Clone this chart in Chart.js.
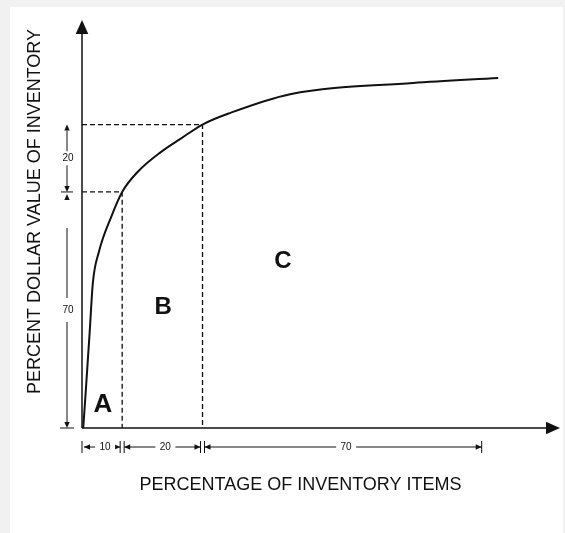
<!DOCTYPE html>
<html lang="en">
<head>
    <meta charset="UTF-8">
    <title>ABC Inventory Curve</title>
    <script src="https://cdn.jsdelivr.net/npm/chart.js"></script>
    <style>
        html, body { margin: 0; padding: 0; background: #f1f1f1; }
        .frame { position: absolute; left: 10px; top: 7px; width: 553px; height: 526px; background: #fff; }
        canvas { position: absolute; left: 0; top: 0; }
    </style>
</head>
<body>
    <div class="frame"></div>
    <canvas id="abcChart" width="565" height="533"></canvas>

    <script>
        // cumulative % of items vs cumulative % of dollar value
        const itemPct  = [0.3, 0.5, 1.07, 1.9, 2.7, 4.2, 7.3, 10, 13.9, 19.7, 24.7, 30, 36.8, 51.8, 82.4, 103.6];
        const valuePct = [0, 3.3, 13.3, 28.2, 43, 52.2, 62.7, 70, 76, 81.9, 85.9, 90, 93.4, 99, 102.3, 103.8];

        // class boundaries
        const classNames = ['A', 'B', 'C'];
        const itemBreaks = [0, 10, 30, 100];   // % of items
        const valueBreaks = [0, 70, 90];       // % of value
        const itemSpans = ['10', '20', '70'];
        const valueSpans = ['70', '20'];

        const xLabel = 'PERCENTAGE OF INVENTORY ITEMS';
        const yLabel = 'PERCENT DOLLAR VALUE OF INVENTORY';

        const curve = itemPct.map((x, i) => ({ x: x, y: valuePct[i] }));

        function guide(points) {
            return {
                data: points,
                showLine: true,
                borderColor: '#111',
                borderWidth: 1.3,
                borderDash: [5, 3],
                pointRadius: 0,
                fill: false
            };
        }

        const guides = [
            guide([{ x: 0, y: valueBreaks[1] }, { x: itemBreaks[1], y: valueBreaks[1] }, { x: itemBreaks[1], y: 0 }]),
            guide([{ x: 0, y: valueBreaks[2] }, { x: itemBreaks[2], y: valueBreaks[2] }, { x: itemBreaks[2], y: 0 }])
        ];

        function arrowHead(ctx, x, y, dir, size) {
            ctx.save();
            ctx.translate(x, y);
            ctx.rotate(dir);
            ctx.beginPath();
            ctx.moveTo(0, 0);
            ctx.lineTo(-size, -size * 0.45);
            ctx.lineTo(-size, size * 0.45);
            ctx.closePath();
            ctx.fill();
            ctx.restore();
        }

        const decorations = {
            id: 'decorations',
            afterDatasetsDraw(chart) {
                const ctx = chart.ctx;
                const xs = chart.scales.x, ys = chart.scales.y;
                const x0 = xs.getPixelForValue(0), y0 = ys.getPixelForValue(0);
                const right = chart.chartArea.right, top = chart.chartArea.top;
                ctx.save();
                ctx.strokeStyle = '#111';
                ctx.fillStyle = '#111';
                ctx.lineWidth = 1.5;

                // axes with arrows
                ctx.beginPath();
                ctx.moveTo(x0, y0); ctx.lineTo(x0, top + 4);
                ctx.moveTo(x0, y0); ctx.lineTo(right - 4, y0);
                ctx.stroke();
                arrowHead(ctx, x0, top, -Math.PI / 2, 14);
                arrowHead(ctx, right, y0, 0, 14);

                // left dimension marks
                ctx.lineWidth = 1;
                const dx = x0 - 15;
                ctx.font = '10px "Liberation Sans", Arial, sans-serif';
                ctx.textAlign = 'center';
                ctx.textBaseline = 'middle';
                const yb = valueBreaks.map(v => ys.getPixelForValue(v));
                // 70 span
                ctx.beginPath();
                ctx.moveTo(dx, yb[1] + 36); ctx.lineTo(dx, yb[0] - 4);
                ctx.moveTo(dx - 7, yb[0]); ctx.lineTo(dx + 7, yb[0]);
                ctx.moveTo(dx - 6, yb[1]); ctx.lineTo(dx + 6, yb[1]);
                ctx.stroke();
                ctx.fillStyle = '#fff';
                ctx.fillRect(dx - 8, (yb[0] + yb[1]) / 2 - 12, 16, 24);
                ctx.fillStyle = '#111';
                ctx.fillText(valueSpans[0], dx + 1, (yb[0] + yb[1]) / 2);
                arrowHead(ctx, dx, yb[0], Math.PI / 2, 6);
                // 20 span
                ctx.beginPath();
                ctx.moveTo(dx, yb[2] + 6); ctx.lineTo(dx, yb[1] - 6);
                ctx.stroke();
                ctx.fillStyle = '#fff';
                ctx.fillRect(dx - 8, (yb[1] + yb[2]) / 2 - 7, 16, 14);
                ctx.fillStyle = '#111';
                ctx.fillText(valueSpans[1], dx + 1, (yb[1] + yb[2]) / 2);
                arrowHead(ctx, dx, yb[2], -Math.PI / 2, 6);
                arrowHead(ctx, dx, yb[1], Math.PI / 2, 6);
                arrowHead(ctx, dx, yb[1] + 2, -Math.PI / 2, 6);

                // bottom dimension marks
                const dy = y0 + 19;
                const xb = itemBreaks.map(v => xs.getPixelForValue(v));
                for (let i = 0; i < 3; i++) {
                    const a = xb[i], b = xb[i + 1];
                    ctx.beginPath();
                    ctx.moveTo(a + 2, dy); ctx.lineTo(b - 2, dy);
                    ctx.moveTo(a + (i === 0 ? 0 : 2), dy - 6); ctx.lineTo(a + (i === 0 ? 0 : 2), dy + 6);
                    ctx.moveTo(b - 2, dy - 6); ctx.lineTo(b - 2, dy + 6);
                    ctx.stroke();
                    arrowHead(ctx, a + 2, dy, Math.PI, 6);
                    arrowHead(ctx, b - 2, dy, 0, 6);
                    const mid = (a + b) / 2 + 3;
                    ctx.fillStyle = '#fff';
                    ctx.fillRect(mid - 10, dy - 6, 20, 12);
                    ctx.fillStyle = '#111';
                    ctx.fillText(itemSpans[i], mid, dy);
                }

                // class letters
                ctx.font = 'bold 26px "Liberation Sans", Arial, sans-serif';
                ctx.fillText(classNames[0], xs.getPixelForValue(5.2), ys.getPixelForValue(7));
                ctx.font = 'bold 24px "Liberation Sans", Arial, sans-serif';
                ctx.fillText(classNames[1], xs.getPixelForValue(20.2), ys.getPixelForValue(35.8));
                ctx.fillText(classNames[2], xs.getPixelForValue(50), ys.getPixelForValue(49.5));

                // axis titles
                ctx.font = '18px "Liberation Sans", Arial, sans-serif';
                ctx.fillText(xLabel, 300.5, 485);
                ctx.save();
                ctx.translate(35, 211.5);
                ctx.rotate(-Math.PI / 2);
                ctx.fillText(yLabel, 0, 0);
                ctx.restore();

                ctx.restore();
            }
        };

        new Chart(document.getElementById('abcChart'), {
            type: 'scatter',
            data: {
                datasets: [{
                    data: curve,
                    showLine: true,
                    borderColor: '#111',
                    borderWidth: 2,
                    pointRadius: 0,
                    cubicInterpolationMode: 'monotone',
                    fill: false
                }].concat(guides)
            },
            options: {
                responsive: false,
                animation: false,
                layout: { padding: { left: 82, right: 5, top: 20, bottom: 105 } },
                plugins: { legend: { display: false }, tooltip: { enabled: false } },
                scales: {
                    x: { type: 'linear', min: 0, max: 119, display: false },
                    y: { type: 'linear', min: 0, max: 121, display: false }
                }
            },
            plugins: [decorations]
        });
    </script>
</body>
</html>
